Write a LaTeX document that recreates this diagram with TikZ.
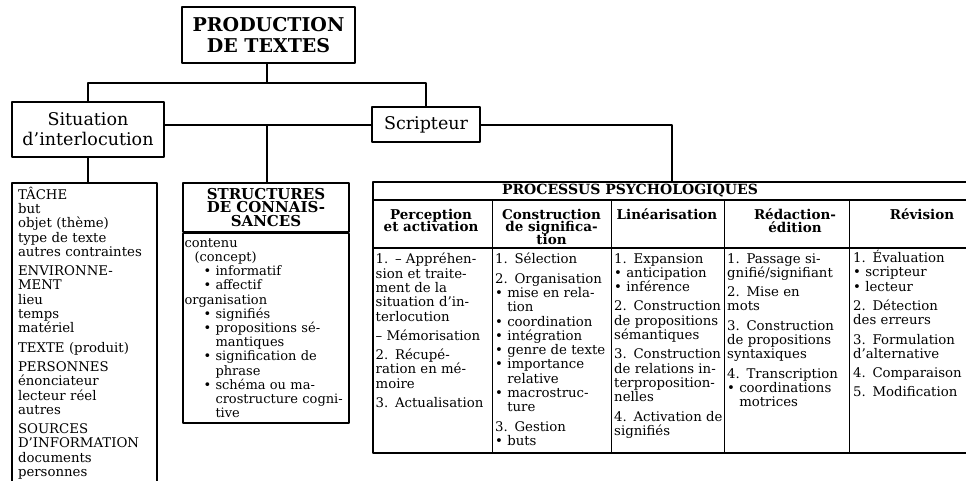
\documentclass[tikz,border=0pt]{standalone}
\usepackage{fontspec}
\setmainfont{DejaVu Serif}
\usepackage{tikz}
\usetikzlibrary{calc}
\newcommand{\bul}{\textbullet\ }
\newcommand{\ind}{\hphantom{\textbullet\ }}
\newcommand{\sub}{\hspace*{19pt}}
\newcommand{\num}[1]{#1.\hspace{0.5em}}
\newcommand{\tightfont}{\lineskiplimit=-10pt}
\tikzset{
  every node/.style={inner sep=0pt},
  box/.style={draw,line width=1.6pt},
  link/.style={line width=1.1pt},
  rule/.style={line width=0.8pt},
  frame/.style={line width=1.6pt},
  bigtitle/.style={box,align=center,font=\fontsize{19}{21}\selectfont\bfseries},
  mainbranch/.style={box,align=center,font=\fontsize{17.5}{20}\selectfont},
  listtext/.style={align=left,font=\fontsize{13.3}{14.3}\selectfont},
  colhead/.style={align=center,anchor=north,font=\fontsize{13.5}{12.5}\selectfont\bfseries\tightfont},
  coltext/.style={listtext,anchor=north west},
}
\begin{document}
\begin{tikzpicture}[x=1pt,y=-1pt,line cap=round,line join=round]
\useasboundingbox (0,0) rectangle (966,481);
\clip (0,0) rectangle (966,481);
% tree
\node[bigtitle,minimum width=173pt,minimum height=56pt] (prod) at (268.5,35) {PRODUCTION\\DE TEXTES};
\node[mainbranch,minimum width=152pt,minimum height=55pt] (situ) at (88,129.5) {Situation\\d'interlocution};
\node[mainbranch,minimum width=108pt,minimum height=35pt] (scrip) at (426,124.5) {Scripteur};
\coordinate (fork) at (267,83);
\coordinate (mid) at (267,125);
\coordinate (psytop) at (672,182);
% situation
\node[box,listtext,text width=133pt,inner xsep=6pt,inner ysep=4pt,anchor=north] (tache) at (84.5,182) {T\^ACHE\\but\\objet (thème)\\type de texte\\autres contraintes\\[5pt]
  ENVIRONNE-\\MENT\\lieu\\temps\\matériel\\[5pt]
  TEXTE (produit)\\[5pt]
  PERSONNES\\énonciateur\\lecteur réel\\autres\\[5pt]
  SOURCES\\D'INFORMATION\\documents\\personnes};
% structures
\node[box,anchor=north,align=center,minimum width=166pt,minimum height=49pt,font=\fontsize{15}{13.5}\selectfont\bfseries\tightfont] (sthead) at (266,182) {STRUCTURES\\DE CONNAIS-\\SANCES};
\node[box,listtext,font=\fontsize{13}{14.2}\selectfont,anchor=north,text width=163pt,inner xsep=1.5pt,inner ysep=5pt] (stbody) at (sthead.south) {contenu\\
  \hspace*{10pt}(concept)\\
  \sub\bul informatif\\
  \sub\bul affectif\\
  organisation\\
  \sub\bul signifiés\\
  \sub\bul propositions sé-\\
  \sub\ind mantiques\\
  \sub\bul signification de\\
  \sub\ind phrase\\
  \sub\bul schéma ou ma-\\
  \sub\ind crostructure cogni-\\
  \sub\ind tive};
% processus
\node[font=\fontsize{14}{15}\selectfont\bfseries] (psy) at (630,191) {PROCESSUS PSYCHOLOGIQUES};
\node[colhead] (h1) at (431,209) {Perception\\et activation};
\node[colhead] (h2) at (551.5,209) {Construction\\de significa-\\tion};
\node[colhead] (h3) at (667,209) {Linéarisation};
\node[colhead] (h4) at (795,209) {Rédaction-\\édition};
\node[colhead] (h5) at (922,209) {Révision};
\node[coltext] (c1) at (375.5,253) {\num{1}-- Appréhen-\\sion et traite-\\ment de la\\situation d'in-\\terlocution\\[5pt]
  -- Mémorisation\\[5pt]
  \num{2}Récupé-\\ration en mé-\\moire\\[5pt]
  \num{3}Actualisation};
\node[coltext] (c2) at (495,253) {\num{1}Sélection\\[5pt]
  \num{2}Organisation\\\bul mise en rela-\\\ind tion\\\bul coordination\\\bul intégration\\\bul genre de texte\\\bul importance\\\ind relative\\\bul macrostruc-\\\ind ture\\[5pt]
  \num{3}Gestion\\\bul buts};
\node[coltext] (c3) at (614,253) {\num{1}Expansion\\\bul anticipation\\\bul inférence\\[5pt]
  \num{2}Construction\\de propositions\\sémantiques\\[5pt]
  \num{3}Construction\\de relations in-\\terproposition-\\nelles\\[5pt]
  \num{4}Activation de\\signifiés};
\node[coltext] (c4) at (727,253) {\num{1}Passage si-\\gnifié/signifiant\\[5pt]
  \num{2}Mise en\\mots\\[5pt]
  \num{3}Construction\\de propositions\\syntaxiques\\[5pt]
  \num{4}Transcription\\\bul coordinations\\\ind motrices};
\node[coltext] (c5) at (853,250) {\num{1}Évaluation\\\bul scripteur\\\bul lecteur\\[5pt]
  \num{2}Détection\\des erreurs\\[5pt]
  \num{3}Formulation\\d'alternative\\[5pt]
  \num{4}Comparaison\\[5pt]
  \num{5}Modification};
\draw[frame] (966,182) -- (373,182) -- (373,453) -- (966,453);
\draw[rule,line width=1.1pt] (373,200) -- (966,200) (373,248) -- (966,248);
\foreach \x in {492,611,724,849} \draw[rule] (\x,200) -- (\x,453);
% connectors
\draw[link] (prod.south -| fork) -- (fork);
\draw[link] (situ.north) |- (fork) -| (scrip.north);
\draw[link] (situ.east |- mid) -- (scrip.west |- mid);
\draw[link] (mid) -- (mid |- sthead.north);
\draw[link] (scrip.east |- mid) -| (psytop);
\draw[link] (situ.south) -- (situ.south |- tache.north);
\end{tikzpicture}
\end{document}
